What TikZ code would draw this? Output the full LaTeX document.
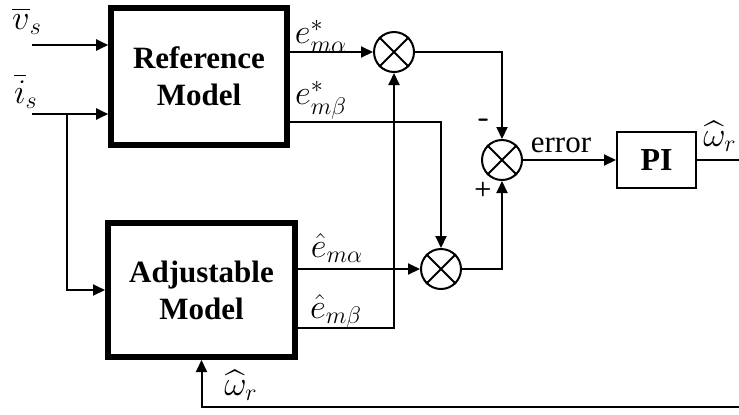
\documentclass[tikz,border=0pt]{standalone}
\usepackage{amsmath,amssymb}
\usepackage{fontspec}
\setmainfont{Liberation Serif}
\usetikzlibrary{arrows.meta}

\begin{document}
\begin{tikzpicture}[x=0.5pt, y=-0.5pt,
        model/.style={rectangle, draw, line width=2.8pt, minimum width=88pt, minimum height=68.7pt, align=center, inner sep=0pt, font=\fontsize{15.5}{18.5}\selectfont\bfseries},
        ctrl/.style={rectangle, draw, line width=1pt, minimum width=39.5pt, minimum height=28pt, inner sep=0pt, font=\fontsize{16}{18}\selectfont\bfseries},
        mult/.style={circle, draw, line width=1pt, minimum size=20pt, inner sep=0pt},
        arr/.style={-{Triangle[length=6pt, width=5.5pt]}, line width=1pt},
        lbl/.style={font=\fontsize{17.5}{20}\selectfont, inner sep=1pt},
        sgn/.style={font=\fontsize{10}{10}\selectfont\bfseries\sffamily, inner sep=0pt}
    ]
    \useasboundingbox (0,0) rectangle (739,414);

    % ---- BLOCKS ----
    \node[model] (ref) at (199, 76.5) {Reference\\Model};
    \node[model, minimum width=93.7pt, minimum height=67.2pt] (adj) at (201.5, 290) {Adjustable\\Model};
    \node[mult] (m1) at (394, 52) {};
    \node[mult] (m2) at (441, 269) {};
    \node[mult] (m3) at (502, 160) {};
    \node[ctrl] (pi) at (656.5, 160) {PI};
    \foreach \m in {m1, m2, m3}
        \draw[line width=1pt] (\m.45) -- (\m.225) (\m.135) -- (\m.315);

    % ---- INPUTS ----
    \coordinate (vs) at (32, 45);
    \coordinate (is) at (32, 114);
    \coordinate (br) at (67, 114);
    \coordinate (wout) at (739, 160);
    \coordinate (wfb) at (739, 407);

    \node[lbl] (lvs) at (27, 21) {$\overline{v}_s$};
    \node[lbl] (lis) at (26, 91) {$\overline{i}_s$};

    \draw[arr] (vs) -- (vs -| ref.west);
    \draw[arr] (is) -- (is -| ref.west);
    \draw[arr] (br) |- (adj.west);

    % ---- MODEL OUTPUTS ----
    \draw[arr] (ref.east |- m1) -- (m1);
    \draw[arr] ([yshift=-22.75pt]ref.east) -| (m2);
    \draw[arr] (adj.east |- m2) -- (m2);
    \draw[arr] ([yshift=-19pt]adj.east) -| (m1);

    \node[lbl] (lea) at (321, 36) {$e^{*}_{m\alpha}$};
    \node[lbl] (leb) at (321, 100) {$e^{*}_{m\beta}$};
    \node[lbl] (lha) at (337, 248) {$\hat{e}_{m\alpha}$};
    \node[lbl] (lhb) at (336, 311) {$\hat{e}_{m\beta}$};

    % ---- ERROR AND PI ----
    \draw[arr] (m1) -| (m3);
    \draw[arr] (m2) -| (m3);
    \node[sgn, font=\fontsize{16}{16}\selectfont\bfseries\sffamily] (minus) at (484, 123) {-};
    \node[sgn] (plus) at (483, 189) {+};
    \node[lbl, font=\fontsize{15.5}{18}\selectfont] (lerr) at (561, 145) {error};
    \draw[arr] (m3) -- (pi);
    \node[lbl] (lwo) at (720, 136) {$\widehat{\omega}_r$};
    \draw[line width=1pt] (pi) -- (wout);

    % ---- FEEDBACK ----
    \node[lbl] (lwf) at (241, 385) {$\widehat{\omega}_r$};
    \draw[arr] (wfb) -| (adj);

\end{tikzpicture}
\end{document}
